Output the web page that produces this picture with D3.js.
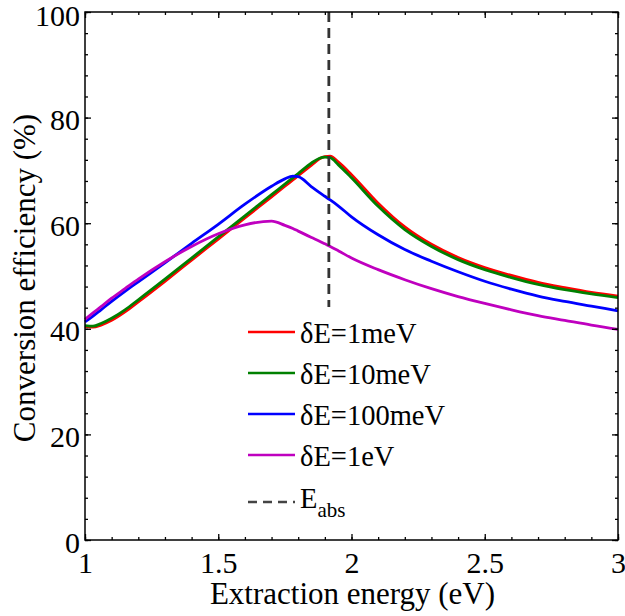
<!DOCTYPE html>
<html>
<head>
<meta charset="utf-8">
<script src="https://cdn.jsdelivr.net/npm/d3@7"></script>
<style>
  html, body { margin: 0; padding: 0; background: #fff; }
  svg { display: block; }
</style>
</head>
<body>
<svg id="chart" width="625" height="616"></svg>
<script>
// ---------- data ----------
const energy = [1.0, 1.03, 1.06, 1.1, 1.15, 1.2, 1.3, 1.4, 1.5, 1.6, 1.7, 1.75, 1.78, 1.8, 1.85, 1.88, 1.9, 1.92, 1.95, 2.0, 2.1, 2.2, 2.3, 2.4, 2.5, 2.6, 2.7, 2.8, 2.9, 3.0];
const eff1meV   = [40.4, 40.3, 40.7, 41.6, 43.2, 45.1, 49.0, 53.0, 57.0, 61.0, 65.0, 67.0, 68.2, 69.0, 71.0, 72.2, 72.6, 72.7, 71.6, 69.2, 63.8, 59.3, 56.0, 53.5, 51.6, 50.1, 48.8, 47.8, 46.9, 46.2];
const eff10meV  = [40.6, 40.5, 41.0, 42.0, 43.6, 45.5, 49.4, 53.4, 57.4, 61.4, 65.4, 67.4, 68.6, 69.4, 71.4, 72.3, 72.5, 72.4, 71.1, 68.6, 63.2, 58.8, 55.6, 53.1, 51.2, 49.7, 48.4, 47.4, 46.6, 45.9];
const eff100meV = [41.3, 42.4, 43.6, 45.2, 47.1, 48.9, 52.5, 56.2, 59.8, 63.6, 67.0, 68.4, 68.9, 68.8, 66.9, 65.8, 65.1, 64.4, 63.3, 61.2, 57.8, 55.0, 52.8, 50.8, 49.0, 47.5, 46.2, 45.2, 44.3, 43.4];
const eff1eV    = [41.8, 43.0, 44.2, 45.8, 47.6, 49.4, 52.7, 55.6, 58.0, 59.7, 60.4, 59.6, 59.0, 58.5, 57.3, 56.6, 56.1, 55.6, 54.8, 53.4, 51.2, 49.3, 47.6, 46.1, 44.8, 43.6, 42.5, 41.6, 40.7, 39.9];
const seriesNames = ["\u03B4E=1meV", "\u03B4E=10meV", "\u03B4E=100meV", "\u03B4E=1eV"];
const seriesColors = ["#ff0000", "#008000", "#0000ff", "#bf00bf"];
const eAbs = 1.915;
const xTickValues = [1, 1.5, 2, 2.5, 3];
const xTickLabels = ["1", "1.5", "2", "2.5", "3"];
const yTickValues = [0, 20, 40, 60, 80, 100];
const xLabel = "Extraction energy (eV)";
const yLabel = "Conversion efficiency (%)";

// ---------- layout ----------
const FONT = "'Liberation Serif', 'Times New Roman', serif";
const svg = d3.select("#chart");
const L = 85, R = 618, T = 12, B = 540;
const x = d3.scaleLinear().domain([1, 3]).range([L, R]);
const y = d3.scaleLinear().domain([0, 100]).range([B, T]);

const allSeries = [eff1meV, eff10meV, eff100meV, eff1eV].map((vals, i) => ({
  name: seriesNames[i], color: seriesColors[i],
  points: energy.map((e, j) => [e, vals[j]])
}));

// curves
const line = d3.line().x(d => x(d[0])).y(d => y(d[1])).curve(d3.curveMonotoneX);
const plot = svg.append("g");
allSeries.forEach(s => {
  plot.append("path").attr("d", line(s.points))
    .attr("fill", "none").attr("stroke", s.color)
    .attr("stroke-width", 2.8).attr("stroke-linejoin", "round");
});

// E_abs dashed line
plot.append("line")
  .attr("x1", x(eAbs)).attr("x2", x(eAbs))
  .attr("y1", y(100)).attr("y2", y(0))
  .attr("stroke", "#333").attr("stroke-width", 2.8)
  .attr("stroke-dasharray", "10,6");

// ---------- axes ----------
const minorX = d3.range(10, 31).map(v => v / 10);
const minorY = d3.range(0, 101, 4);

function styleAxis(g) {
  g.attr("font-family", FONT).attr("font-size", 30);
  g.select(".domain").remove();
  g.selectAll("line").attr("stroke", "#000").attr("stroke-width", 1.3);
  g.selectAll("text").attr("font-family", FONT).attr("font-size", 30)
    .style("font-family", FONT).style("font-size", "30px").attr("fill", "#000");
}

// bottom
svg.append("g").attr("transform", `translate(0,${B})`)
  .call(d3.axisBottom(x).tickValues(minorX).tickSize(-3).tickFormat("")).call(styleAxis);
svg.append("g").attr("transform", `translate(0,${B})`)
  .call(d3.axisBottom(x).tickValues(xTickValues).tickSize(-6).tickPadding(12)
    .tickFormat((d, i) => xTickLabels[i])).call(styleAxis);
// top
svg.append("g").attr("transform", `translate(0,${T})`)
  .call(d3.axisTop(x).tickValues(minorX).tickSize(-3).tickFormat("")).call(styleAxis);
svg.append("g").attr("transform", `translate(0,${T})`)
  .call(d3.axisTop(x).tickValues(xTickValues).tickSize(-6).tickFormat("")).call(styleAxis);
// left
svg.append("g").attr("transform", `translate(${L},0)`)
  .call(d3.axisLeft(y).tickValues(minorY).tickSize(-3).tickFormat("")).call(styleAxis);
svg.append("g").attr("transform", `translate(${L},0)`)
  .call(d3.axisLeft(y).tickValues(yTickValues).tickSize(-6).tickPadding(5)
    .tickFormat(d3.format("d"))).call(styleAxis)
  .selectAll("text").attr("dy", d => d === 100 ? "0.45em" : "0.4em");
// right
svg.append("g").attr("transform", `translate(${R},0)`)
  .call(d3.axisRight(y).tickValues(minorY).tickSize(-3).tickFormat("")).call(styleAxis);
svg.append("g").attr("transform", `translate(${R},0)`)
  .call(d3.axisRight(y).tickValues(yTickValues).tickSize(-6).tickFormat("")).call(styleAxis);

// frame
svg.append("rect").attr("x", L).attr("y", T).attr("width", R - L).attr("height", B - T)
  .attr("fill", "none").attr("stroke", "#000").attr("stroke-width", 1.5);

// axis titles
svg.append("text").attr("x", (L + R) / 2 + 1).attr("y", 604)
  .attr("text-anchor", "middle").attr("font-family", FONT).attr("font-size", 31)
  .style("font-family", FONT).attr("fill", "#000").text(xLabel);
svg.append("text").attr("transform", `translate(35,${(T + B) / 2 + 2}) rotate(-90)`)
  .attr("text-anchor", "middle").attr("font-family", FONT).attr("font-size", 31)
  .style("font-family", FONT).attr("fill", "#000").text(yLabel);

// ---------- legend ----------
const leg = svg.append("g");
leg.append("rect").attr("x", 240).attr("y", 307).attr("width", 235).attr("height", 227)
  .attr("fill", "#fff");
const rowY = [332, 373, 414, 455];
allSeries.forEach((s, i) => {
  leg.append("line").attr("x1", 248).attr("x2", 295).attr("y1", rowY[i]).attr("y2", rowY[i])
    .attr("stroke", s.color).attr("stroke-width", 2.6);
  leg.append("text").attr("x", 300).attr("y", rowY[i] + 11)
    .attr("font-family", FONT).style("font-family", FONT).attr("font-size", 28.5)
    .attr("fill", "#000").text(s.name);
});
leg.append("line").attr("x1", 248).attr("x2", 295).attr("y1", 502).attr("y2", 502)
  .attr("stroke", "#444").attr("stroke-width", 2.6).attr("stroke-dasharray", "9,6");
const et = leg.append("text").attr("x", 300).attr("y", 508)
  .attr("font-family", FONT).style("font-family", FONT).attr("font-size", 28.5).attr("fill", "#000");
et.append("tspan").text("E");
et.append("tspan").attr("dy", 9).attr("font-size", 21).text("abs");
</script>
</body>
</html>
